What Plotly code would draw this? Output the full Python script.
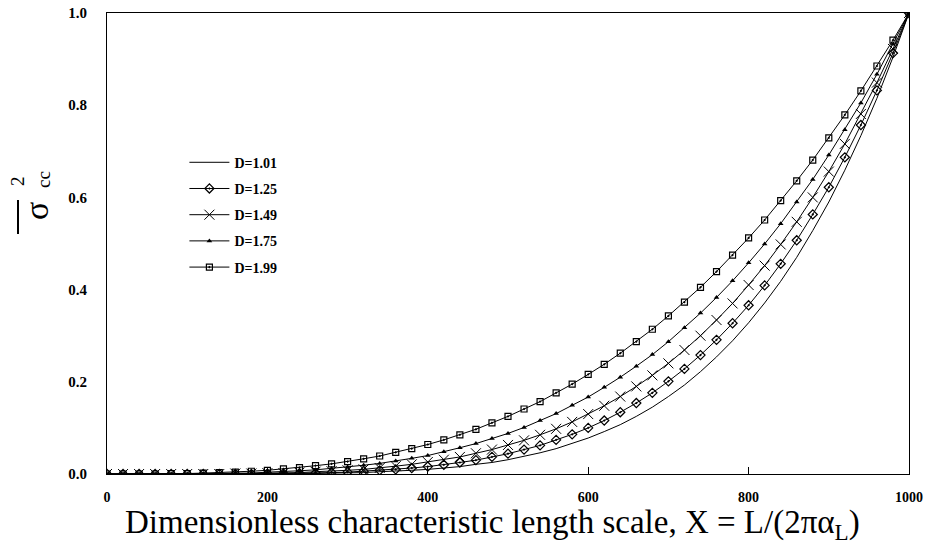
import plotly.graph_objects as go

# X positions of markers (every 20 units)
x_vals = [0, 20, 40, 60, 80, 100, 120, 140, 160, 180, 200, 220, 240, 260, 280, 300,
          320, 340, 360, 380, 400, 420, 440, 460, 480, 500, 520, 540, 560, 580, 600,
          620, 640, 660, 680, 700, 720, 740, 760, 780, 800, 820, 840, 860, 880, 900,
          920, 940, 960, 980, 1000]

d101 = [0, 0, 0, 0, 0, 0, 0, 0, 0, 0, 0, 0.001, 0.001, 0.001, 0.002, 0.002,
        0.003, 0.005, 0.006, 0.008, 0.010, 0.013, 0.016, 0.021, 0.025, 0.031, 0.038, 0.046, 0.055, 0.066, 0.078,
        0.092, 0.107, 0.125, 0.145, 0.168, 0.193, 0.222, 0.254, 0.289, 0.328, 0.371, 0.418, 0.470, 0.528, 0.590,
        0.659, 0.734, 0.815, 0.904, 1.0]

d125 = [0, 0, 0, 0, 0, 0, 0, 0, 0, 0, 0.001, 0.001, 0.002, 0.002, 0.003, 0.004,
        0.006, 0.008, 0.010, 0.013, 0.016, 0.020, 0.025, 0.030, 0.037, 0.044, 0.053, 0.062, 0.074, 0.086, 0.100,
        0.116, 0.134, 0.154, 0.176, 0.201, 0.228, 0.258, 0.291, 0.327, 0.366, 0.409, 0.456, 0.507, 0.563, 0.622,
        0.687, 0.757, 0.832, 0.913, 1.0]

d149 = [0, 0, 0, 0, 0, 0, 0, 0, 0.001, 0.001, 0.002, 0.002, 0.003, 0.005, 0.006, 0.008,
        0.010, 0.013, 0.017, 0.021, 0.026, 0.031, 0.037, 0.045, 0.053, 0.063, 0.073, 0.085, 0.098, 0.113, 0.130,
        0.148, 0.168, 0.190, 0.214, 0.240, 0.269, 0.300, 0.334, 0.370, 0.410, 0.452, 0.498, 0.547, 0.600, 0.656,
        0.716, 0.781, 0.849, 0.922, 1.0]

d175 = [0, 0, 0, 0, 0, 0, 0.001, 0.001, 0.002, 0.002, 0.004, 0.005, 0.007, 0.009, 0.012, 0.015,
        0.019, 0.023, 0.028, 0.034, 0.040, 0.048, 0.057, 0.066, 0.077, 0.088, 0.101, 0.116, 0.131, 0.149, 0.167,
        0.188, 0.210, 0.234, 0.259, 0.287, 0.317, 0.349, 0.383, 0.419, 0.458, 0.499, 0.543, 0.590, 0.639, 0.692,
        0.747, 0.805, 0.867, 0.932, 1.0]

d199 = [0, 0, 0, 0, 0.001, 0.001, 0.002, 0.003, 0.004, 0.006, 0.008, 0.011, 0.014, 0.018, 0.022, 0.027,
        0.033, 0.039, 0.047, 0.055, 0.064, 0.074, 0.085, 0.097, 0.111, 0.125, 0.141, 0.157, 0.176, 0.195, 0.216,
        0.238, 0.262, 0.287, 0.314, 0.343, 0.373, 0.405, 0.439, 0.475, 0.512, 0.551, 0.593, 0.636, 0.681, 0.729,
        0.779, 0.831, 0.885, 0.941, 1.0]

names = ["D=1.01", "D=1.25", "D=1.49", "D=1.75", "D=1.99"]
series = [d101, d125, d149, d175, d199]

x_ticks = [0, 200, 400, 600, 800, 1000]
y_ticks = [0.0, 0.2, 0.4, 0.6, 0.8, 1.0]
y_tick_text = ["0.0", "0.2", "0.4", "0.6", "0.8", "1.0"]

x_title = "Dimensionless characteristic length scale, X = L/(2πα<sub>L</sub>)"

styles = [
    dict(mode="lines"),
    dict(mode="lines+markers", marker=dict(symbol="diamond-open-dot", size=7, color="black",
                                            line=dict(width=1.2, color="black"))),
    dict(mode="lines+markers", marker=dict(symbol="x-thin", size=10, color="black",
                                            line=dict(width=1, color="black"))),
    dict(mode="lines+markers", marker=dict(symbol="triangle-up", size=5, color="black",
                                            line=dict(width=0, color="black"))),
    dict(mode="lines+markers", marker=dict(symbol="square-open-dot", size=6, color="black",
                                            line=dict(width=1.2, color="black"))),
]

serif = "Liberation Serif"
fig = go.Figure()
for name, ys, st in zip(names, series, styles):
    fig.add_trace(go.Scatter(x=x_vals, y=ys, name=name, legendgroup=name,
                             line=dict(color="black", width=1), **st))

# plot-area geometry helpers (paper coords) for the title pieces
L, R, T, B = 107, 18, 13, 70
W, H = 927, 544
pw, ph = W - L - R, H - T - B


def px(xp):
    return (xp - L) / pw


def py(yp):
    return (H - B - yp) / ph


fig.update_layout(
    width=W, height=H,
    margin=dict(l=L, r=R, t=T, b=B),
    plot_bgcolor="white", paper_bgcolor="white",
    showlegend=True,
    legend=dict(x=0.0965, y=0.71, xanchor="left", yanchor="top",
                font=dict(family=serif, size=14, color="black", weight="bold"),
                bgcolor="rgba(0,0,0,0)", tracegroupgap=5, itemwidth=40),
    xaxis=dict(range=[0, 1000], tickvals=x_ticks, ticks="inside", ticklen=7,
               tickcolor="black", showline=True, mirror=True, linecolor="black",
               linewidth=1, showgrid=False, zeroline=False, automargin=False,
               tickfont=dict(family=serif, size=14, color="black", weight="bold"),
               ticklabelstandoff=10),
    yaxis=dict(range=[0, 1.0], tickvals=y_ticks, ticktext=y_tick_text, ticks="",
               showline=True, mirror=True, linecolor="black", linewidth=1,
               showgrid=False, zeroline=False, automargin=False,
               tickfont=dict(family=serif, size=15, color="black", weight="bold"),
               ticklabelstandoff=16),
    annotations=[
        dict(text=x_title, x=px(492), y=py(524), xref="paper", yref="paper", showarrow=False,
             xanchor="center", yanchor="middle",
             font=dict(family=serif, size=33, color="black")),
        dict(text="σ", x=px(36), y=py(211), xref="paper", yref="paper", showarrow=False,
             textangle=-90, xanchor="center", yanchor="middle",
             font=dict(family=serif, size=34, color="black")),
        dict(text="2", x=px(18), y=py(181), xref="paper", yref="paper", showarrow=False,
             textangle=-90, xanchor="center", yanchor="middle",
             font=dict(family=serif, size=19, color="black")),
        dict(text="cc", x=px(43), y=py(180), xref="paper", yref="paper", showarrow=False,
             textangle=-90, xanchor="center", yanchor="middle",
             font=dict(family=serif, size=19, color="black")),
    ],
    shapes=[
        dict(type="line", xref="paper", yref="paper", x0=px(18), x1=px(18),
             y0=py(200), y1=py(234), line=dict(color="black", width=2)),
    ],
)

fig.write_html("out.html")
